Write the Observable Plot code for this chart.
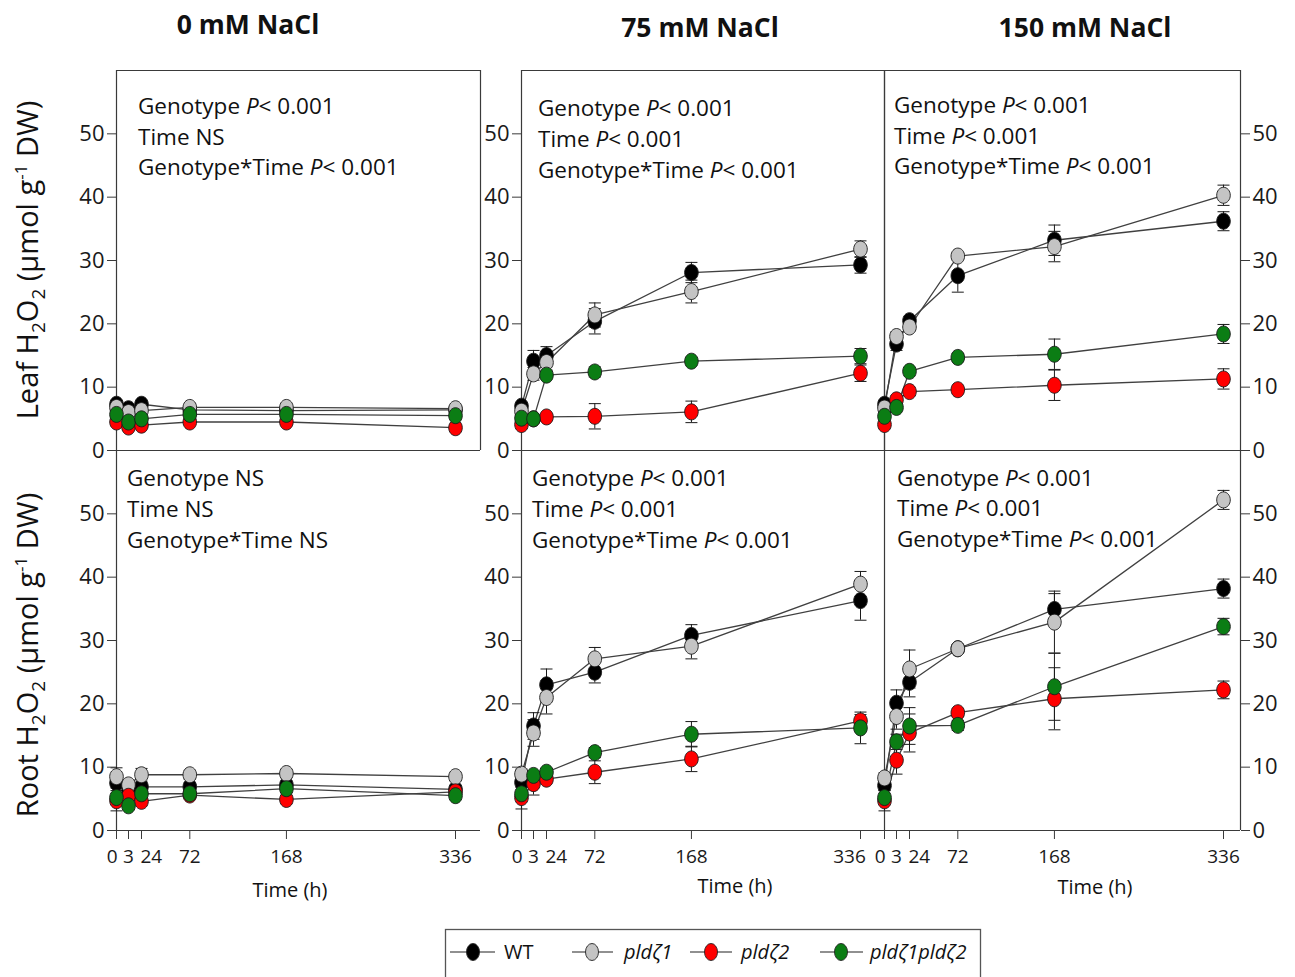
<!DOCTYPE html>
<html><head><meta charset="utf-8">
<script src="https://cdn.jsdelivr.net/npm/d3@7"></script>
<script src="https://cdn.jsdelivr.net/npm/@observablehq/plot@0.6"></script>
<style>
body{margin:0;background:#fff;}
#chart{position:relative;width:1295px;height:977px;overflow:hidden;font-family:"Open Sans",sans-serif;}
#chart svg{position:absolute;overflow:visible;}
</style></head><body><div id="chart"></div>
<script>
// ---------- data ----------
const times = [0, 3, 24, 72, 168, 336];
const xTickLabels = ["0", "3", "24", "72", "168", "336"];
const yTicks = [0, 10, 20, 30, 40, 50];
const genotypes = ["WT", "pldζ1", "pldζ2", "pldζ1pldζ2"];
const genotypeColors = ["#000000", "#c4c4c4", "#ff0000", "#0b7d14"];
const salts = ["0 mM NaCl", "75 mM NaCl", "150 mM NaCl"];
const tissueTitles = ["Leaf", "Root"];

// Leaf, 0 mM
const leaf0Mean = [
  [7.3, 6.6, 7.3, 6.4, 6.3, 6.4],
  [6.8, 6.0, 6.3, 6.8, 6.8, 6.6],
  [4.5, 3.7, 4.0, 4.5, 4.5, 3.6],
  [5.7, 4.5, 5.0, 5.7, 5.7, 5.5]
];
const leaf0Err = [
  [0.6, 0.5, 0.5, 0.4, 0.4, 0.4],
  [0.5, 0.5, 0.5, 0.4, 0.4, 0.4],
  [0.6, 0.5, 0.5, 0.4, 0.4, 0.5],
  [0.5, 0.5, 0.5, 0.4, 0.4, 0.4]
];
// Leaf, 75 mM
const leaf75Mean = [
  [7.0, 14.1, 15.0, 20.4, 28.1, 29.3],
  [6.2, 12.1, 13.9, 21.4, 25.1, 31.8],
  [4.1, 5.0, 5.3, 5.4, 6.1, 12.2],
  [5.1, 5.0, 11.9, 12.4, 14.1, 14.9]
];
const leaf75Err = [
  [0.5, 1.7, 1.4, 2.0, 1.6, 1.3],
  [0.5, 1.0, 1.2, 1.9, 1.8, 1.3],
  [0.6, 0.5, 0.5, 2.0, 1.7, 1.3],
  [0.5, 0.4, 0.6, 0.8, 0.6, 1.2]
];
// Leaf, 150 mM
const leaf150Mean = [
  [7.3, 16.8, 20.5, 27.6, 33.2, 36.2],
  [6.7, 18.0, 19.5, 30.7, 32.2, 40.3],
  [4.1, 8.0, 9.3, 9.6, 10.3, 11.3],
  [5.4, 6.8, 12.5, 14.7, 15.2, 18.4]
];
const leaf150Err = [
  [0.5, 1.0, 0.6, 2.6, 2.4, 1.5],
  [0.5, 0.7, 0.6, 0.6, 2.4, 1.6],
  [0.5, 0.6, 0.6, 0.5, 2.4, 1.6],
  [0.5, 0.5, 0.6, 0.6, 2.4, 1.5]
];
// Root, 0 mM
const root0Mean = [
  [7.5, 6.3, 6.9, 6.9, 7.2, 6.5],
  [8.5, 7.2, 8.8, 8.8, 9.0, 8.5],
  [4.7, 5.4, 4.6, 5.6, 4.9, 6.1],
  [5.2, 3.9, 5.8, 5.8, 6.6, 5.5]
];
const root0Err = [
  [0.8, 0.6, 0.6, 0.6, 0.6, 0.6],
  [1.4, 0.6, 1.0, 0.7, 0.6, 0.6],
  [1.6, 0.6, 0.6, 0.6, 0.6, 0.6],
  [0.6, 0.6, 0.6, 0.6, 0.6, 0.6]
];
// Root, 75 mM
const root75Mean = [
  [7.6, 16.5, 23.0, 25.0, 30.8, 36.3],
  [8.9, 15.4, 21.0, 27.1, 29.1, 38.9],
  [5.2, 7.4, 8.1, 9.2, 11.3, 17.3],
  [5.8, 8.7, 9.2, 12.3, 15.2, 16.2]
];
const root75Err = [
  [0.8, 2.1, 2.5, 1.7, 1.7, 3.1],
  [0.8, 2.1, 2.6, 1.8, 2.0, 2.0],
  [1.8, 1.8, 0.6, 1.8, 2.0, 1.0],
  [0.6, 0.6, 0.6, 0.8, 2.0, 2.5]
];
// Root, 150 mM
const root150Mean = [
  [7.1, 20.1, 23.4, 28.7, 34.9, 38.2],
  [8.3, 18.0, 25.5, 28.7, 32.9, 52.2],
  [4.7, 11.1, 15.4, 18.6, 20.8, 22.2],
  [5.2, 14.0, 16.5, 16.6, 22.7, 32.2]
];
const root150Err = [
  [0.8, 2.1, 2.3, 0.5, 2.5, 1.5],
  [0.8, 2.0, 3.0, 0.6, 4.9, 1.5],
  [1.6, 2.2, 3.0, 0.6, 4.9, 1.4],
  [0.6, 1.2, 2.9, 0.8, 5.3, 1.3]
];

const leafStats = [
  ["Genotype P< 0.001", "Time NS", "Genotype*Time P< 0.001"],
  ["Genotype P< 0.001", "Time P< 0.001", "Genotype*Time P< 0.001"],
  ["Genotype P< 0.001", "Time P< 0.001", "Genotype*Time P< 0.001"]
];
const rootStats = [
  ["Genotype NS", "Time NS", "Genotype*Time NS"],
  ["Genotype P< 0.001", "Time P< 0.001", "Genotype*Time P< 0.001"],
  ["Genotype P< 0.001", "Time P< 0.001", "Genotype*Time P< 0.001"]
];
const xTitle = "Time (h)";

// ---------- layout ----------
const chart = document.getElementById("chart");
const colFrames = [{left: 116, right: 480}, {left: 521, right: 884}, {left: 884, right: 1240}];
const rowFrames = [{top: 70, bottom: 450}, {top: 450, bottom: 830}];
const xOff = [0, 12, 25, 339]; // pixel offsets for 0, 3, 24, 336 h
const slope = (xOff[3] - xOff[2]) / (336 - 24);
const axisColor = "#3a3a3a";
const lastLabelShift = [0, -11, 0];

const ellipseSymbol = {draw(ctx) {
  const rx = 6.8, ry = 8, k = 0.5523;
  ctx.moveTo(rx, 0);
  ctx.bezierCurveTo(rx, ry * k, rx * k, ry, 0, ry);
  ctx.bezierCurveTo(-rx * k, ry, -rx, ry * k, -rx, 0);
  ctx.bezierCurveTo(-rx, -ry * k, -rx * k, -ry, 0, -ry);
  ctx.bezierCurveTo(rx * k, -ry, rx, -ry * k, rx, 0);
  ctx.closePath();
}};
const capSymbol = {draw(ctx) { ctx.moveTo(-6, 0); ctx.lineTo(6, 0); }};

function makePanel(col, row, means, errs) {
  const {left: L, right: R} = colFrames[col];
  const {top: T, bottom: B} = rowFrames[row];
  const w = R - L, h = B - T;
  const mL = 70, mR = 70, mT = 10, mB = row === 1 ? 45 : 10;
  const xEnd = 336 + (w - xOff[3]) / slope;
  const data = genotypes.flatMap((g, i) => times.map((t, j) => ({g, t, v: means[i][j], e: errs[i][j]})));
  const marks = [
    Plot.ruleY([0], {stroke: axisColor, strokeWidth: 1.2}),
    Plot.ruleX([0], {stroke: axisColor, strokeWidth: 1.2})
  ];
  if (row === 0) marks.push(Plot.ruleY([60], {stroke: axisColor, strokeWidth: 1.2}));
  if (row === 0 || col === 2) marks.push(Plot.ruleX([xEnd], {stroke: axisColor, strokeWidth: 1.2}));
  marks.push(
    Plot.line(data, {x: "t", y: "v", z: "g", stroke: "#404040", strokeWidth: 1.3}),
    Plot.ruleX(data, {x: "t", y1: d => d.v - d.e, y2: d => d.v + d.e, stroke: "#1a1a1a", strokeWidth: 1}),
    Plot.dot(data, {x: "t", y: d => d.v + d.e, symbol: capSymbol, fill: "none", stroke: "#1a1a1a", strokeWidth: 1}),
    Plot.dot(data, {x: "t", y: d => d.v - d.e, symbol: capSymbol, fill: "none", stroke: "#1a1a1a", strokeWidth: 1}),
    Plot.dot(data, {x: "t", y: "v", fill: "g", symbol: ellipseSymbol, stroke: "#1a1a1a", strokeWidth: 0.9}),
    Plot.axisY({ticks: yTicks, anchor: col === 2 ? "right" : "left", label: null, tickSize: 9, tickPadding: 3, fontSize: 22, stroke: axisColor})
  );
  if (row === 1) {
    const lab = t => xTickLabels[times.indexOf(t)];
    marks.push(
      Plot.axisX({ticks: times, label: null, tickSize: 9, tickFormat: () => "", stroke: axisColor}),
      Plot.axisX({ticks: [3, 72, 168], label: null, tickSize: 0, tickPadding: 19, tickFormat: lab, fontSize: 19}),
      Plot.axisX({ticks: [336], label: null, tickSize: 0, tickPadding: 19, tickFormat: lab, fontSize: 19, dx: lastLabelShift[col]}),
      Plot.axisX({ticks: [0], label: null, tickSize: 0, tickPadding: 19, tickFormat: lab, fontSize: 19, textAnchor: "end", dx: 1}),
      Plot.axisX({ticks: [24], label: null, tickSize: 0, tickPadding: 19, tickFormat: lab, fontSize: 19, textAnchor: "start", dx: -1})
    );
  }
  const plot = Plot.plot({
    width: w + mL + mR, height: h + mT + mB,
    marginLeft: mL, marginRight: mR, marginTop: mT, marginBottom: mB,
    x: {type: "linear", domain: [0, 3, 24, 336, xEnd], range: [mL + xOff[0], mL + xOff[1], mL + xOff[2], mL + xOff[3], mL + w], label: null, axis: row === 1 ? undefined : null},
    y: {domain: [0, 60], label: null},
    color: {domain: genotypes, range: genotypeColors},
    style: {fontFamily: "'Open Sans', sans-serif", color: "#1a1a1a", background: "none", overflow: "visible"},
    marks
  });
  plot.style.position = "absolute";
  plot.style.left = (L - mL) + "px";
  plot.style.top = (T - mT) + "px";
  plot.style.maxWidth = "none";
  chart.appendChild(plot);
}

const leafMeans = [leaf0Mean, leaf75Mean, leaf150Mean], leafErrs = [leaf0Err, leaf75Err, leaf150Err];
const rootMeans = [root0Mean, root75Mean, root150Mean], rootErrs = [root0Err, root75Err, root150Err];
for (let c = 0; c < 3; c++) {
  makePanel(c, 0, leafMeans[c], leafErrs[c]);
  makePanel(c, 1, rootMeans[c], rootErrs[c]);
}

// ---------- text overlay ----------
const ov = d3.select(chart).append("svg")
  .attr("width", 1295).attr("height", 977)
  .style("left", "0px").style("top", "0px")
  .style("font-family", "'Open Sans', sans-serif").attr("fill", "#111");

const titlePos = [[248, 34], [700, 37], [1085, 37]];
salts.forEach((s, i) => ov.append("text").attr("x", titlePos[i][0]).attr("y", titlePos[i][1])
  .attr("text-anchor", "middle").attr("font-size", 26.5).attr("font-weight", "bold").text(s));

function statLine(x, y, str) {
  const t = ov.append("text").attr("x", x).attr("y", y).attr("font-size", 22.5);
  const k = str.indexOf("P<");
  if (k < 0) { t.text(str); return; }
  t.append("tspan").text(str.slice(0, k));
  t.append("tspan").attr("font-style", "italic").text("P");
  t.append("tspan").text(str.slice(k + 1));
}
const leafStatPos = [[138, [106, 137, 167]], [538, [108, 139, 170]], [894, [105, 136, 166]]];
const rootStatPos = [[127, [478, 509, 540]], [532, [478, 509, 540]], [897, [478, 508, 539]]];
leafStats.forEach((lines, c) => lines.forEach((s, j) => statLine(leafStatPos[c][0], leafStatPos[c][1][j] + 8, s)));
rootStats.forEach((lines, c) => lines.forEach((s, j) => statLine(rootStatPos[c][0], rootStatPos[c][1][j] + 8, s)));

function yTitle(cy, tissue) {
  const t = ov.append("text").attr("transform", `translate(38,${cy}) rotate(-90)`)
    .attr("text-anchor", "middle").attr("font-size", 29);
  t.append("tspan").text(tissue + " H");
  t.append("tspan").attr("font-size", 19).attr("dy", 7).text("2");
  t.append("tspan").attr("dy", -7).text("O");
  t.append("tspan").attr("font-size", 19).attr("dy", 7).text("2");
  t.append("tspan").attr("dy", -7).text(" (µmol g");
  t.append("tspan").attr("font-size", 17).attr("dy", -11).text("-1");
  t.append("tspan").attr("dy", 11).text(" DW)");
}
yTitle(260, tissueTitles[0]);
yTitle(655, tissueTitles[1]);

const xTitlePos = [[290, 897], [735, 893], [1095, 894]];
xTitlePos.forEach(p => ov.append("text").attr("x", p[0]).attr("y", p[1]).attr("text-anchor", "middle")
  .attr("font-size", 20).text(xTitle));

// legend
ov.append("rect").attr("x", 445.5).attr("y", 929.5).attr("width", 535).attr("height", 70)
  .attr("fill", "none").attr("stroke", "#555").attr("stroke-width", 1.3);
const legItems = [
  {x1: 450, x2: 495, cx: 473, tx: 504},
  {x1: 572, x2: 613, cx: 592, tx: 624},
  {x1: 690, x2: 732, cx: 711, tx: 741},
  {x1: 820, x2: 863, cx: 841, tx: 870}
];
const ly = 952;
genotypes.forEach((g, i) => {
  const it = legItems[i];
  ov.append("line").attr("x1", it.x1).attr("x2", it.x2).attr("y1", ly).attr("y2", ly).attr("stroke", "#222").attr("stroke-width", 1.2);
  ov.append("ellipse").attr("cx", it.cx).attr("cy", ly).attr("rx", 6.5).attr("ry", 8.5)
    .attr("fill", genotypeColors[i]).attr("stroke", "#222").attr("stroke-width", 0.9);
  ov.append("text").attr("x", it.tx).attr("y", ly + 7).attr("font-size", 20)
    .attr("font-style", i === 0 ? "normal" : "italic").text(g);
});
</script></body></html>
